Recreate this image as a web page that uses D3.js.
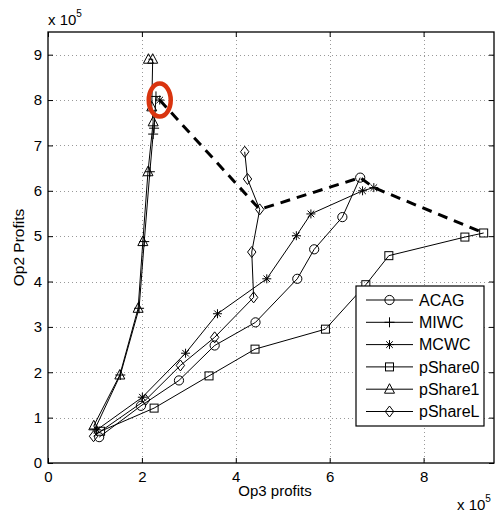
<!DOCTYPE html>
<html><head><meta charset="utf-8">
<script src="https://cdn.jsdelivr.net/npm/d3@7"></script>
<style>
body{margin:0;background:#fff;}
text{font-family:"Liberation Sans",Arial,Helvetica,sans-serif;fill:#000;}
</style></head>
<body>
<svg id="chart" width="495" height="512"></svg>
<script>
// ---- data (units of 1e5) ----
const xTicks = [0, 2, 4, 6, 8];
const yTicks = [0, 1, 2, 3, 4, 5, 6, 7, 8, 9];
const seriesNames = ["ACAG", "MIWC", "MCWC", "pShare0", "pShare1", "pShareL"];
const seriesMarkers = ["circle", "plus", "star", "square", "triangle", "diamond"];

const acagX = [1.09, 1.98, 2.79, 3.55, 4.42, 5.31, 5.67, 6.27, 6.65];
const acagY = [0.57, 1.26, 1.82, 2.59, 3.10, 4.06, 4.71, 5.42, 6.29];

const miwcX = [1.00, 1.54, 1.94, 2.05, 2.17, 2.24, 2.26, 2.30];
const miwcY = [0.75, 1.94, 3.41, 4.88, 6.42, 7.25, 7.38, 8.08];

const mcwcX = [1.04, 2.01, 2.93, 3.61, 4.66, 5.29, 5.60, 6.70, 6.94];
const mcwcY = [0.73, 1.45, 2.42, 3.29, 4.06, 5.01, 5.49, 6.00, 6.07];

const pShare0X = [1.12, 2.26, 3.43, 4.41, 5.91, 6.77, 7.26, 8.88, 9.28];
const pShare0Y = [0.70, 1.21, 1.92, 2.51, 2.95, 3.93, 4.57, 4.98, 5.07];

const pShare1X = [0.975, 1.53, 1.92, 2.02, 2.13, 2.24, 2.21, 2.23, 2.14];
const pShare1Y = [0.82, 1.94, 3.41, 4.88, 6.42, 7.52, 7.85, 8.90, 8.90];

const pShareLX = [0.97, 2.08, 2.82, 3.55, 4.38, 4.34, 4.51, 4.25, 4.19];
const pShareLY = [0.59, 1.39, 2.15, 2.77, 3.65, 4.65, 5.59, 6.26, 6.86];

// frontier (thick dashed) and highlighted optimum
const frontierX = [2.38, 4.51, 6.65, 6.94, 9.28];
const frontierY = [8.00, 5.59, 6.29, 6.07, 5.07];
const highlightX = [2.38];
const highlightY = [8.00];

const seriesX = [acagX, miwcX, mcwcX, pShare0X, pShare1X, pShareLX];
const seriesY = [acagY, miwcY, mcwcY, pShare0Y, pShare1Y, pShareLY];

// ---- layout ----
const svg = d3.select("#chart");
const L = 48, R = 494, T = 32, B = 463;
const x = d3.scaleLinear().domain([0, 9.5]).range([L, R]);
const y = d3.scaleLinear().domain([0, 9.5]).range([B, T]);

// grid
const grid = svg.append("g").attr("stroke", "#999").attr("stroke-width", 1).attr("stroke-dasharray", "1,3");
xTicks.filter(t => t > 0).forEach(t => {
  grid.append("line").attr("x1", Math.round(x(t)) + 0.5).attr("x2", Math.round(x(t)) + 0.5).attr("y1", T).attr("y2", B);
});
yTicks.filter(t => t > 0).forEach(t => {
  grid.append("line").attr("y1", Math.round(y(t)) + 0.5).attr("y2", Math.round(y(t)) + 0.5).attr("x1", L).attr("x2", R);
});

// marker drawing
function marker(g, type, cx, cy) {
  const s = "#000";
  if (type === "circle") {
    g.append("circle").attr("cx", cx).attr("cy", cy).attr("r", 4.6).attr("fill", "none").attr("stroke", s);
  } else if (type === "square") {
    g.append("rect").attr("x", cx - 4).attr("y", cy - 4).attr("width", 8).attr("height", 8).attr("fill", "none").attr("stroke", s);
  } else if (type === "triangle") {
    g.append("path").attr("d", `M${cx},${cy - 5.5}L${cx + 5},${cy + 4}L${cx - 5},${cy + 4}Z`).attr("fill", "none").attr("stroke", s);
  } else if (type === "diamond") {
    g.append("path").attr("d", `M${cx},${cy - 5.5}L${cx + 4.2},${cy}L${cx},${cy + 5.5}L${cx - 4.2},${cy}Z`).attr("fill", "none").attr("stroke", s);
  } else if (type === "plus") {
    g.append("path").attr("d", `M${cx - 5},${cy}H${cx + 5}M${cx},${cy - 5}V${cy + 5}`).attr("stroke", s);
  } else if (type === "star") {
    const r = 4.5, d = 3.3;
    g.append("path").attr("d", `M${cx - r},${cy}H${cx + r}M${cx},${cy - r}V${cy + r}M${cx - d},${cy - d}L${cx + d},${cy + d}M${cx - d},${cy + d}L${cx + d},${cy - d}`).attr("stroke", s);
  }
}

const line = d3.line().x(d => x(d[0])).y(d => y(d[1]));
const dataG = svg.append("g");
seriesNames.forEach((name, i) => {
  const pts = seriesX[i].map((v, j) => [v, seriesY[i][j]]);
  dataG.append("path").attr("d", line(pts)).attr("fill", "none").attr("stroke", "#000").attr("stroke-width", 1);
});
seriesNames.forEach((name, i) => {
  const pts = seriesX[i].map((v, j) => [v, seriesY[i][j]]);
  pts.forEach(p => marker(dataG, seriesMarkers[i], x(p[0]), y(p[1])));
});

// frontier dashed
const fpts = frontierX.map((v, j) => [v, frontierY[j]]);
svg.append("path").attr("d", line(fpts)).attr("fill", "none").attr("stroke", "#000")
  .attr("stroke-width", 3).attr("stroke-dasharray", "10,7");
highlightX.forEach((v, j) => marker(svg, "star", x(v), y(highlightY[j])));
// red highlight ellipse
highlightX.forEach((v, j) => {
  svg.append("ellipse").attr("cx", x(v)).attr("cy", y(highlightY[j])).attr("rx", 11).attr("ry", 16.5)
    .attr("fill", "none").attr("stroke", "#d9340f").attr("stroke-width", 4.5);
});

// axes (inward ticks)
const axB = svg.append("g").attr("transform", `translate(0,${B})`)
  .call(d3.axisBottom(x).tickValues(xTicks).tickSizeInner(-5).tickSizeOuter(0).tickPadding(8).tickFormat(d3.format("d")));
const axL = svg.append("g").attr("transform", `translate(${L},0)`)
  .call(d3.axisLeft(y).tickValues(yTicks).tickSizeInner(-5).tickSizeOuter(0).tickPadding(6).tickFormat(d3.format("d")));
const axT = svg.append("g").attr("transform", `translate(0,${T})`)
  .call(d3.axisTop(x).tickValues(xTicks).tickSizeInner(-5).tickSizeOuter(0).tickFormat(""));
const axR = svg.append("g").attr("transform", `translate(${R},0)`)
  .call(d3.axisRight(y).tickValues(yTicks).tickSizeInner(-5).tickSizeOuter(0).tickFormat(""));
[axB, axL, axT, axR].forEach(a => {
  a.select(".domain").remove();
  a.selectAll("line").attr("stroke", "#000");
  a.selectAll("text").attr("font-size", 15).attr("font-family", "Liberation Sans, Arial, sans-serif").attr("fill", "#000");
});
svg.append("rect").attr("x", L).attr("y", T).attr("width", R - L).attr("height", B - T)
  .attr("fill", "none").attr("stroke", "#000").attr("stroke-width", 1.3);

// legend
const lg = svg.append("g");
const lgX = 356, lgY = 286, lgW = 128, lgH = 140, rowH = 22.3;
lg.append("rect").attr("x", lgX).attr("y", lgY).attr("width", lgW).attr("height", lgH)
  .attr("fill", "#fff").attr("stroke", "#000").attr("stroke-width", 1.2);
seriesNames.forEach((name, i) => {
  const cy = lgY + 14 + i * rowH;
  lg.append("line").attr("x1", lgX + 10).attr("x2", lgX + 57).attr("y1", cy).attr("y2", cy).attr("stroke", "#000");
  marker(lg, seriesMarkers[i], lgX + 33.5, cy);
  lg.append("text").attr("x", lgX + 63).attr("y", cy).attr("dy", "0.36em").attr("font-size", 16).text(name);
});

// axis labels
svg.append("text").attr("x", (L + R) / 2 + 4).attr("y", 496).attr("text-anchor", "middle").attr("font-size", 15).text("Op3 profits");
svg.append("text").attr("transform", `translate(24,${(T + B) / 2}) rotate(-90)`).attr("text-anchor", "middle").attr("font-size", 15.5).text("Op2 Profits");

// exponent labels
const e1 = svg.append("text").attr("x", L).attr("y", 25).attr("font-size", 15);
e1.append("tspan").text("x 10");
e1.append("tspan").attr("font-size", 10).attr("dy", -8).text("5");
const e2 = svg.append("text").attr("x", 457).attr("y", 510).attr("font-size", 15);
e2.append("tspan").text("x 10");
e2.append("tspan").attr("font-size", 10).attr("dy", -8).text("5");
</script>
</body></html>
